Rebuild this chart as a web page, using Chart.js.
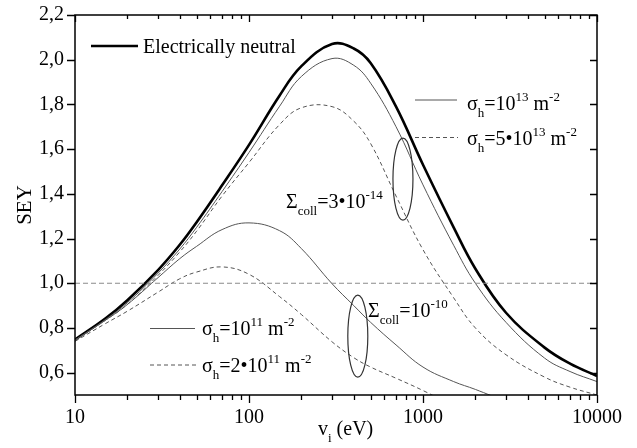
<!DOCTYPE html>
<html>
<head>
<meta charset="utf-8">
<script src="https://cdn.jsdelivr.net/npm/chart.js@4"></script>
<style>
  html, body { margin: 0; padding: 0; background: #fff; }
  #wrap { width: 637px; height: 448px; }
</style>
</head>
<body>
<div id="wrap"><canvas id="sey" width="637" height="448"></canvas></div>
<script>
// primary energy v_i (eV)
const energies = [10, 15, 20, 30, 40, 50, 70, 100, 150, 200, 300, 400, 500, 700, 1000, 1500, 2000, 3000, 5000, 7000, 10000];

// SEY, one value per energy
const seyNeutral = [0.748, 0.843, 0.924, 1.059, 1.172, 1.273, 1.438, 1.619, 1.84, 1.971, 2.07, 2.05, 1.985, 1.79, 1.53, 1.25, 1.065, 0.868, 0.712, 0.64, 0.585];
const seyH1e13 = [0.745, 0.838, 0.913, 1.045, 1.153, 1.25, 1.41, 1.585, 1.792, 1.925, 2.005, 1.975, 1.895, 1.70, 1.44, 1.17, 1.0, 0.825, 0.665, 0.605, 0.56];
const seyH5e13 = [0.745, 0.835, 0.905, 1.035, 1.14, 1.233, 1.39, 1.54, 1.71, 1.785, 1.79, 1.725, 1.625, 1.39, 1.15, 0.935, 0.80, 0.68, 0.58, 0.535, 0.50];
const seyH1e11 = [0.745, 0.835, 0.905, 1.025, 1.11, 1.165, 1.24, 1.27, 1.235, 1.155, 0.998, 0.90, 0.825, 0.724, 0.625, 0.56, 0.525, 0.47, null, null, null];
const seyH2e11 = [0.74, 0.82, 0.875, 0.96, 1.02, 1.05, 1.073, 1.04, 0.94, 0.86, 0.738, 0.667, 0.625, 0.575, 0.52, 0.45, null, null, null, null, null];

const unityLevel = 1.0;

const xLabelValues = [10, 100, 1000, 10000];
const yTickValues = [0.6, 0.8, 1.0, 1.2, 1.4, 1.6, 1.8, 2.0, 2.2];

// ellipse centres marking the two groups of curves (data coords)
const ellipseCollHigh = { x: 767, y: 1.466 };
const ellipseCollLow = { x: 422, y: 0.763 };

// minor + major tick positions on the log axis
const xTickValues = [];
for (let d = 10; d < 10000; d *= 10) {
  for (let m = 1; m < 10; m++) xTickValues.push(d * m);
}
xTickValues.push(10000);

const FONT = '"Liberation Serif", "Times New Roman", serif';

function pts(ys) {
  return energies.map((e, i) => ({ x: e, y: ys[i] }));
}

function richText(ctx, x, y, parts) {
  parts.forEach(p => {
    const small = p.sub || p.sup;
    ctx.font = (small ? '13px ' : '20px ') + FONT;
    const dy = p.sub ? 7 : p.sup ? -9 : 0;
    ctx.fillText(p.t, x, y + dy);
    x += ctx.measureText(p.t).width;
  });
}

function sampleLine(ctx, x1, x2, y, width, dash) {
  ctx.save();
  ctx.beginPath();
  ctx.lineWidth = width;
  ctx.strokeStyle = width > 2 ? '#000' : '#555';
  ctx.setLineDash(dash || []);
  ctx.moveTo(x1, y);
  ctx.lineTo(x2, y);
  ctx.stroke();
  ctx.restore();
}

const framePlugin = {
  id: 'frame',
  afterDraw(chart) {
    const { ctx, chartArea: a, scales: { x, y } } = chart;
    ctx.save();

    // box
    ctx.strokeStyle = '#000';
    ctx.lineWidth = 1.5;
    ctx.strokeRect(a.left, a.top, a.right - a.left, a.bottom - a.top);

    // x ticks: outward at bottom, inward at top
    ctx.lineWidth = 1.3;
    xTickValues.forEach(v => {
      const px = Math.round(x.getPixelForValue(v)) + 0.5;
      const major = xLabelValues.includes(v);
      ctx.beginPath();
      ctx.moveTo(px, a.bottom);
      ctx.lineTo(px, a.bottom + (major ? 8 : 5));
      ctx.moveTo(px, a.top);
      ctx.lineTo(px, a.top + (major ? 7 : 4));
      ctx.stroke();
    });
    // y ticks: outward at left, inward at right
    yTickValues.forEach(v => {
      const py = Math.round(y.getPixelForValue(v)) + 0.5;
      ctx.beginPath();
      ctx.moveTo(a.left - 8, py);
      ctx.lineTo(a.left, py);
      ctx.moveTo(a.right - 7, py);
      ctx.lineTo(a.right, py);
      ctx.stroke();
    });

    // axis titles
    ctx.fillStyle = '#000';
    ctx.textBaseline = 'alphabetic';
    ctx.textAlign = 'left';
    richText(ctx, 318, 435, [{ t: 'v' }, { t: 'i', sub: true }, { t: ' (eV)' }]);
    ctx.save();
    ctx.translate(31, (a.top + a.bottom) / 2);
    ctx.rotate(-Math.PI / 2);
    ctx.textAlign = 'center';
    ctx.font = '21px ' + FONT;
    ctx.fillText('SEY', 0, 0);
    ctx.restore();

    // in-plot legend
    sampleLine(ctx, a.left + 16, a.left + 63, a.top + 31, 2.6);
    ctx.font = '20px ' + FONT;
    ctx.fillText('Electrically neutral', a.left + 68, a.top + 38);

    sampleLine(ctx, 415, 457, 100, 1);
    richText(ctx, 467, 110, [{ t: 'σ' }, { t: 'h', sub: true }, { t: '=10' }, { t: '13', sup: true }, { t: ' m' }, { t: '-2', sup: true }]);
    sampleLine(ctx, 415, 458, 137.5, 1, [4, 3]);
    richText(ctx, 467, 145, [{ t: 'σ' }, { t: 'h', sub: true }, { t: '=5•10' }, { t: '13', sup: true }, { t: ' m' }, { t: '-2', sup: true }]);

    sampleLine(ctx, 150, 195, 328.5, 1);
    richText(ctx, 202, 335, [{ t: 'σ' }, { t: 'h', sub: true }, { t: '=10' }, { t: '11', sup: true }, { t: ' m' }, { t: '-2', sup: true }]);
    sampleLine(ctx, 150, 197, 365, 1, [4, 3]);
    richText(ctx, 202, 372, [{ t: 'σ' }, { t: 'h', sub: true }, { t: '=2•10' }, { t: '11', sup: true }, { t: ' m' }, { t: '-2', sup: true }]);

    richText(ctx, 286, 208, [{ t: 'Σ' }, { t: 'coll', sub: true }, { t: '=3•10' }, { t: '-14', sup: true }]);
    richText(ctx, 368, 317, [{ t: 'Σ' }, { t: 'coll', sub: true }, { t: '=10' }, { t: '-10', sup: true }]);

    // ellipses
    ctx.strokeStyle = '#333';
    ctx.lineWidth = 1.2;
    [ellipseCollHigh, ellipseCollLow].forEach(c => {
      ctx.beginPath();
      ctx.ellipse(x.getPixelForValue(c.x), y.getPixelForValue(c.y), 10, 41, 0, 0, Math.PI * 2);
      ctx.stroke();
    });

    ctx.restore();
  }
};

window.onload = function () {
  const ctx = document.getElementById('sey').getContext('2d');
  new Chart(ctx, {
    type: 'line',
    data: {
      datasets: [
        { data: [{ x: 10, y: unityLevel }, { x: 10000, y: unityLevel }], borderColor: '#8a8a8a', borderWidth: 1.2, borderDash: [5, 3], tension: 0 },
        { data: pts(seyH2e11), borderColor: '#555', borderWidth: 1, borderDash: [4, 3] },
        { data: pts(seyH1e11), borderColor: '#555', borderWidth: 1 },
        { data: pts(seyH5e13), borderColor: '#555', borderWidth: 1, borderDash: [4, 3] },
        { data: pts(seyH1e13), borderColor: '#555', borderWidth: 1 },
        { data: pts(seyNeutral), borderColor: '#000', borderWidth: 2.6 }
      ]
    },
    options: {
      responsive: false,
      animation: false,
      layout: { padding: { top: 13, right: 40, left: 0, bottom: 0 } },
      elements: {
        point: { radius: 0 },
        line: { tension: 0.4, fill: false }
      },
      datasets: { line: { clip: 0, spanGaps: false } },
      plugins: { legend: { display: false }, tooltip: { enabled: false } },
      scales: {
        x: {
          type: 'logarithmic',
          min: 10,
          max: 10000,
          afterBuildTicks: s => { s.ticks = xTickValues.map(v => ({ value: v })); },
          afterFit: s => { s.height = 53; },
          grid: { drawOnChartArea: false, tickLength: 8, tickColor: 'transparent' },
          border: { display: false },
          ticks: {
            autoSkip: false,
            maxRotation: 0,
            padding: 3,
            color: '#000',
            font: { family: FONT, size: 20 },
            callback: v => xLabelValues.includes(v) ? String(v) : ''
          }
        },
        y: {
          min: 0.5,
          max: 2.2,
          afterBuildTicks: s => { s.ticks = yTickValues.map(v => ({ value: v })); },
          afterFit: s => { s.width = 75; },
          grid: { drawOnChartArea: false, tickLength: 8, tickColor: 'transparent' },
          border: { display: false },
          ticks: {
            padding: 3,
            color: '#000',
            font: { family: FONT, size: 20 },
            callback: v => v.toFixed(1).replace('.', ',')
          }
        }
      }
    },
    plugins: [framePlugin]
  });
};
</script>
</body>
</html>
